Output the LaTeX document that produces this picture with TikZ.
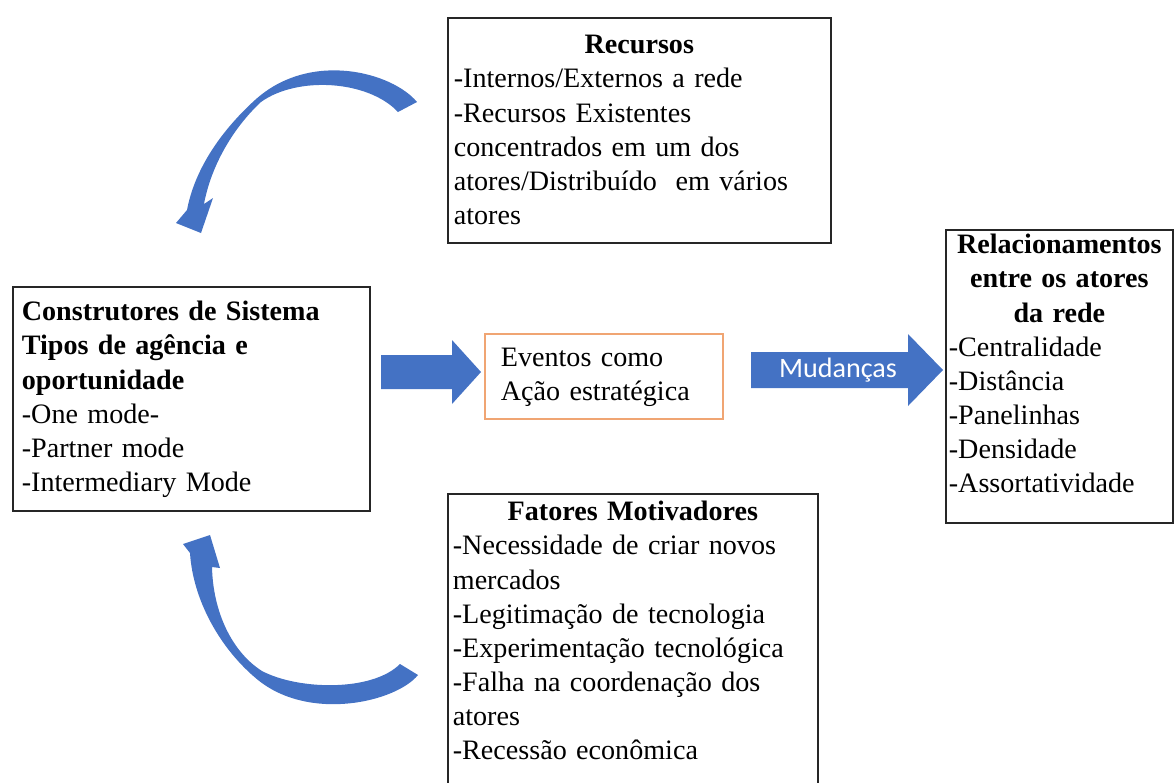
\documentclass[tikz,border=0pt]{standalone}
\usepackage{fontspec}
\setmainfont{Liberation Serif}
\newfontfamily\carlito{Carlito}
\definecolor{officeblue}{RGB}{68,114,196}
\definecolor{eventorange}{RGB}{240,165,115}

\begin{document}
\begin{tikzpicture}[x=0.02cm,y=-0.02cm,
  every node/.style={font=\fontsize{16}{19.4}\selectfont},
  panel/.style={draw=black!85,line width=1pt,anchor=north west,align=left,
    inner ysep=0pt},
  evbox/.style={draw=eventorange,line width=1pt,anchor=north west,align=left,
    inner ysep=0pt},
  bigarrow/.style={fill=officeblue}]
 \useasboundingbox (0,0) rectangle (1174,782);
 \node[panel,inner xsep=.12cm,text width=7.42cm,text height=.72cm,
   text depth=3.78cm] (recursos) at (447,17)
   {\makebox[\linewidth]{\textbf{Recursos}}\\
    -Internos/Externos a rede\\
    -Recursos Existentes\\
    concentrados em um dos\\
    atores/Distribuído\ \ em vários\\
    atores};
 \node[panel,inner xsep=.18cm,text width=6.78cm,text height=.68cm,
   text depth=3.8cm] (construtores) at (12,286)
   {\textbf{Construtores de Sistema}\\
    \textbf{Tipos de agência e}\\
    \textbf{oportunidade}\\
    -One mode-\\
    -Partner mode\\
    -Intermediary Mode};
 \node[evbox,inner xsep=.32cm,text width=4.12cm,text height=.66cm,
   text depth=1.04cm] (eventos) at (484,333)
   {Eventos como\\
    Ação estratégica};
 \node[panel,inner xsep=.06cm,text width=4.42cm,text height=.48cm,
   text depth=5.38cm] (relacoes) at (945,229)
   {\makebox[\linewidth]{\textbf{Relacionamentos}}\\
    \makebox[\linewidth]{\textbf{entre os atores}}\\
    \makebox[\linewidth]{\textbf{da rede}}\\
    -Centralidade\\
    -Distância\\
    -Panelinhas\\
    -Densidade\\
    -Assortatividade};
 \node[panel,inner xsep=.1cm,text width=7.2cm,text height=.54cm,
   text depth=6.4cm] (fatores) at (447,493)
   {\makebox[\linewidth]{\textbf{Fatores Motivadores}}\\
    -Necessidade de criar novos\\
    mercados\\
    -Legitimação de tecnologia\\
    -Experimentação tecnológica\\
    -Falha na coordenação dos\\
    atores\\
    -Recessão econômica};
 % block arrows
 \fill[bigarrow] (381,355) -- (452,355) -- (452,340) -- (481,372)
   -- (452,404) -- (452,389) -- (381,389) -- cycle;
 \fill[bigarrow] (751,352) -- (908,352) -- (908,334) -- (943,370)
   -- (908,406) -- (908,388) -- (751,388) -- cycle;
 \node[text=white,font=\carlito\fontsize{16}{19}\selectfont] (mudancas)
   at (838,370) {Mudanças};
 % curved arrows
 \fill[bigarrow] (417,102) .. controls (392,72) and (310,50) .. (255,100)
   .. controls (222,130) and (195,168) .. (187,210)
   -- (176,223) -- (201,233) -- (213,198) -- (204,204)
   .. controls (211,166) and (233,128) .. (261,102)
   .. controls (297,76) and (368,80) .. (398,112) -- cycle;
 \fill[bigarrow] (418,675) .. controls (396,702) and (310,722) .. (258,680)
   .. controls (220,649) and (193,600) .. (190,553)
   -- (183,544) -- (210,535) -- (220,568) -- (212,567)
   .. controls (213,612) and (232,652) .. (262,671)
   .. controls (298,690) and (372,692) .. (400,664) -- cycle;
\end{tikzpicture}
\end{document}
